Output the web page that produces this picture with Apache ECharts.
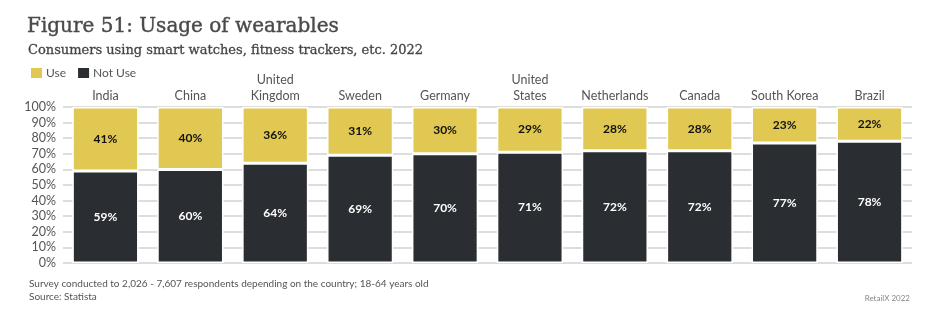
<!DOCTYPE html>
<html><head><meta charset="utf-8">
<script src="https://cdn.jsdelivr.net/npm/echarts@6/dist/echarts.min.js"></script>
<style>html,body{margin:0;padding:0;background:#fff}#c{width:937px;height:325px}</style>
</head><body><div id="c"></div>
<script>
const categories = ['India','China','United\nKingdom','Sweden','Germany','United\nStates','Netherlands','Canada','South Korea','Brazil'];
const useValues = [41,40,36,31,30,29,28,28,23,22];
const notUseValues = [59,60,64,69,70,71,72,72,77,78];
const yTicks = [0,10,20,30,40,50,60,70,80,90,100];

const chart = echarts.init(document.getElementById('c'));
const sans = 'Lato';
chart.setOption({
  animation:false,
  backgroundColor:'#fff',
  title:[
    {text:'Figure 51: Usage of wearables', left:27, top:17, padding:0, textStyle:{fontFamily:'DejaVu Serif', fontSize:20, fontWeight:'normal', color:'#4a4a4a', textBorderColor:'#4a4a4a', textBorderWidth:0.4}},
    {text:'Consumers using smart watches, fitness trackers, etc. 2022', left:28, top:44, padding:0, textStyle:{fontFamily:'DejaVu Serif', fontSize:13, fontWeight:'normal', color:'#444', textBorderColor:'#444', textBorderWidth:0.3}},
    {text:'Survey conducted to 2,026 - 7,607 respondents depending on the country; 18-64 years old', left:29, top:279, padding:0, textStyle:{fontFamily:sans, fontSize:10, fontWeight:'normal', color:'#555'}},
    {text:'Source: Statista', left:29, top:292, padding:0, textStyle:{fontFamily:sans, fontSize:10, fontWeight:'normal', color:'#555'}},
    {text:'RetailX 2022', right:27, top:294, padding:0, textStyle:{fontFamily:sans, fontSize:8, fontWeight:'normal', color:'#888'}}
  ],
  legend:{
    data:['Use','Not Use'], left:24, top:61, itemWidth:13, itemHeight:12, itemGap:10, icon:'rect',
    textStyle:{fontFamily:sans, fontSize:12, color:'#555', padding:[0,0,0,-2]}
  },
  grid:{left:63, right:25, top:107, bottom:62},
  xAxis:{
    type:'category', position:'top', data:categories,
    axisLine:{show:false}, axisTick:{show:false},
    axisLabel:{interval:0, fontFamily:sans, fontSize:12.5, color:'#555', margin:3, lineHeight:16}
  },
  yAxis:{
    type:'value', min:yTicks[0], max:yTicks[yTicks.length-1], interval:10,
    axisLine:{show:false}, axisTick:{show:false},
    axisLabel:{fontFamily:sans, fontSize:12.5, color:'#555', margin:7, formatter:'{value}%'},
    splitLine:{lineStyle:{color:'#dddddd', width:2}}
  },
  series:[
    {name:'Not Use', type:'bar', stack:'a', data:notUseValues, barCategoryGap:'22%',
     itemStyle:{color:'#2a2d31', borderColor:'#fff', borderWidth:1.5},
     label:{show:true, position:'inside', formatter:'{c}%', color:'#fff', fontWeight:'bold', fontFamily:sans, fontSize:12}},
    {name:'Use', type:'bar', stack:'a', data:useValues, barCategoryGap:'22%',
     itemStyle:{color:'#e0c852', borderColor:'#fff', borderWidth:1.5},
     label:{show:true, position:'inside', formatter:'{c}%', color:'#111', fontWeight:'bold', fontFamily:sans, fontSize:12}}
  ]
});
</script></body></html>
